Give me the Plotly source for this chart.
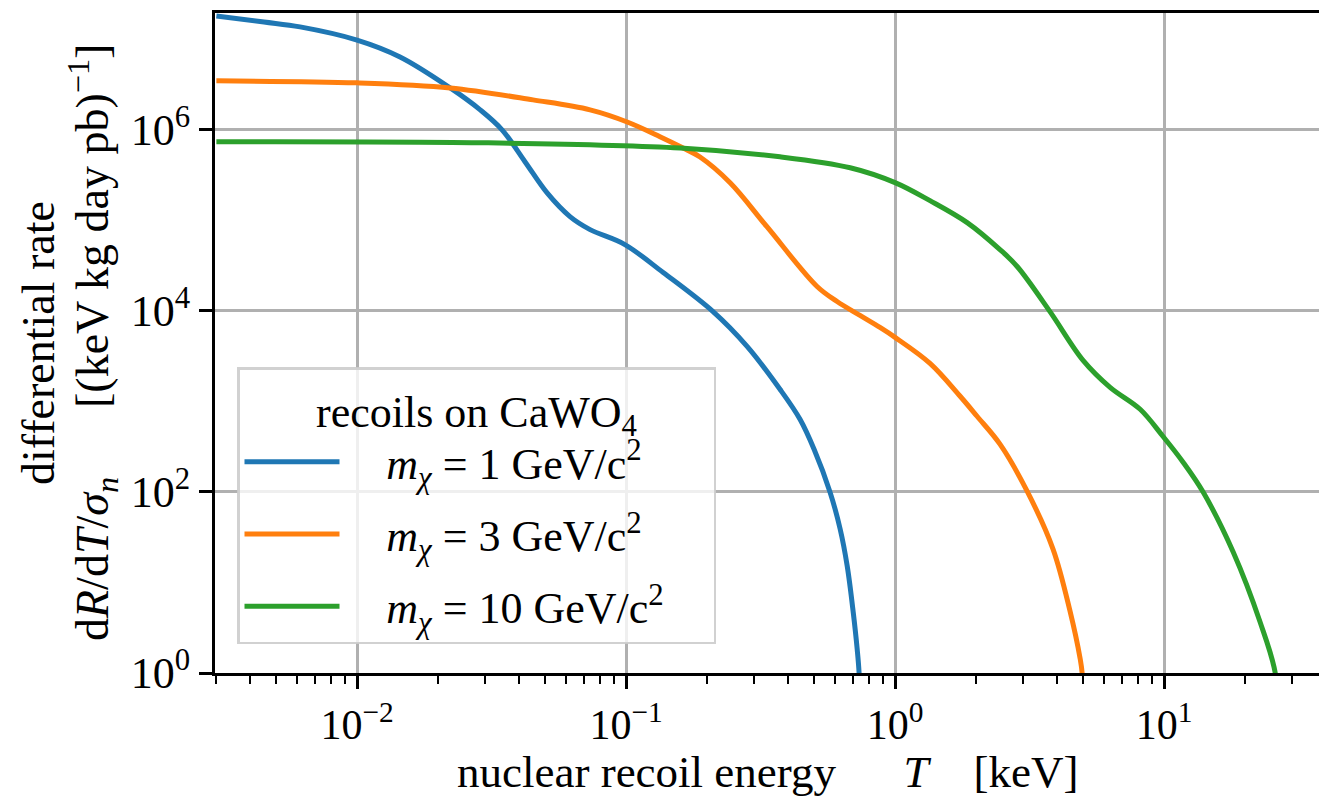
import plotly.graph_objects as go

# ---- data ----
T_1gev = [0.003, 0.00451, 0.00614, 0.01, 0.01445, 0.0222, 0.0287, 0.0346, 0.0421, 0.0508,
          0.0619, 0.0735, 0.099, 0.1374, 0.2106, 0.2818, 0.3735, 0.4433, 0.5, 0.573,
          0.625, 0.664, 0.699, 0.723, 0.735, 0.742]
R_1gev = [1.81e7, 1.55e7, 1.37e7, 9.8e6, 6.38e6, 2.9e6, 1.66e6, 1.0e6, 4.44e5, 2.02e5,
          1.1e5, 7.9e4, 5.4e4, 2.65e4, 9.8e3, 4.05e3, 1.36e3, 635, 296, 100,
          39, 15.2, 4.7, 1.85, 1.0, 0.3]

T_3gev = [0.003, 0.01, 0.0222, 0.0451, 0.0735, 0.101, 0.1337, 0.163, 0.1884, 0.2437,
          0.334, 0.513, 0.609, 0.741, 0.879, 1.0, 1.349, 1.746, 2.018, 2.455,
          3.097, 3.866, 4.47, 4.876, 4.96, 5.0]
R_3gev = [3.47e6, 3.3e6, 2.9e6, 2.14e6, 1.66e6, 1.22e6, 8.4e5, 6.3e5, 5.0e5, 2.6e5,
          8.5e4, 1.86e4, 1.27e4, 8.9e3, 6.56e3, 5.1e3, 2.63e3, 1.14e3, 685, 337,
          102, 23.4, 4.85, 1.44, 1.0, 0.3]

T_10gev = [0.003, 0.0287, 0.159, 0.3735, 0.681, 1.0, 1.349, 1.854, 2.455, 2.844,
           3.767, 5.0, 6.3, 8.15, 9.9, 11.77, 13.97, 18.07, 22.75, 25.9, 26.4]
R_10gev = [7.38e5, 7.2e5, 6.3e5, 5.03e5, 3.81e5, 2.61e5, 1.65e5, 9.44e4, 4.75e4, 3.09e4,
           9.8e3, 2.84e3, 1.43e3, 818, 412, 213, 99.6, 21.7, 3.66, 1.0, 0.3]

series_names = ["<i>m</i><sub><i>χ</i></sub> = 1 GeV/c<sup>2</sup>",
                "<i>m</i><sub><i>χ</i></sub> = 3 GeV/c<sup>2</sup>",
                "<i>m</i><sub><i>χ</i></sub> = 10 GeV/c<sup>2</sup>"]
series_colors = ["#1f77b4", "#ff7f0e", "#2ca02c"]
legend_title = "recoils on CaWO<sub>4</sub>"

x_tickvals = [0.01, 0.1, 1, 10]
x_ticktext = ["10<sup>−2</sup>", "10<sup>−1</sup>", "10<sup>0</sup>", "10<sup>1</sup>"]
x_minor = [m * 10.0 ** e for e in (-3, -2, -1, 0, 1) for m in range(2, 10)]
y_tickvals = [1, 1e2, 1e4, 1e6]
y_ticktext = ["10<sup>0</sup>", "10<sup>2</sup>", "10<sup>4</sup>", "10<sup>6</sup>"]

FONT = "Liberation Serif"
W, H = 1319, 799
L, R, T, B = 215, 0, 13, 126
PW, PH = W - L - R, H - T - B
sp = "\u00a0"

fig = go.Figure()
for i, (xs, ys, name, col) in enumerate(zip([T_1gev, T_3gev, T_10gev], [R_1gev, R_3gev, R_10gev],
                                            series_names, series_colors)):
    fig.add_trace(go.Scatter(x=xs, y=ys, mode="lines", name=sp * 3 + "\u2009" + name + sp * 4,
                             legendgroup="g%d" % i,
                             line=dict(color=col, width=5, shape="spline", smoothing=1.0)))

axis_common = dict(showline=True, linecolor="black", linewidth=3, ticks="outside",
                   ticklen=13, tickwidth=2.5, tickcolor="black", showgrid=True,
                   gridcolor="#b0b0b0", gridwidth=2.5, zeroline=False)

fig.update_layout(
    width=W, height=H,
    margin=dict(l=L, r=R, t=T, b=B),
    paper_bgcolor="white", plot_bgcolor="white",
    font=dict(family=FONT, size=44, color="black"),
    xaxis=dict(type="log", range=[-2.528, 1.576], tickmode="array",
               tickvals=x_tickvals, ticktext=x_ticktext, mirror=True,
               ticklabelstandoff=0,
               tickfont=dict(family=FONT, size=42, color="black"),
               minor=dict(tickmode="array", tickvals=x_minor, ticks="outside",
                          ticklen=8, tickwidth=1.8, tickcolor="black", showgrid=False),
               **axis_common),
    yaxis=dict(type="log", range=[0, 7.29], tickmode="array",
               tickvals=y_tickvals, ticktext=y_ticktext, mirror=False,
               tickfont=dict(family=FONT, size=44, color="black"),
               **axis_common),
    legend=dict(x=(237 - L) / PW, y=(673 - 367) / PH, xanchor="left", yanchor="top",
                bgcolor="rgba(255,255,255,0.8)", bordercolor="rgba(204,204,204,0.9)",
                borderwidth=2.5, itemwidth=95, tracegroupgap=12,
                font=dict(family=FONT, size=44, color="black"),
                title=dict(text=legend_title, side="top center",
                           font=dict(family=FONT, size=44, color="black"))),
    showlegend=True,
)

fig.add_annotation(xref="paper", yref="paper", x=(38 - L) / PW, y=0.5,
                   xanchor="center", yanchor="middle", textangle=-90, showarrow=False,
                   text="differential rate", font=dict(family=FONT, size=46, color="black"))
fig.add_annotation(xref="paper", yref="paper", x=(92 - L) / PW, y=0.5,
                   xanchor="center", yanchor="middle", textangle=-90, showarrow=False,
                   text="d<i>R</i>/d<i>T</i>/<i>σ</i><sub><i>n</i></sub>" + sp * 6 +
                        "[(keV kg day pb)<sup>−1</sup>]",
                   font=dict(family=FONT, size=46, color="black"))
fig.add_annotation(xref="paper", yref="paper", x=0.5, y=-(772 - 673) / PH,
                   xanchor="center", yanchor="middle", showarrow=False,
                   text="nuclear recoil energy" + sp * 6 + "<i>T</i>" + sp * 4 + "[keV]",
                   font=dict(family=FONT, size=45, color="black"))

fig.write_html("out.html")
